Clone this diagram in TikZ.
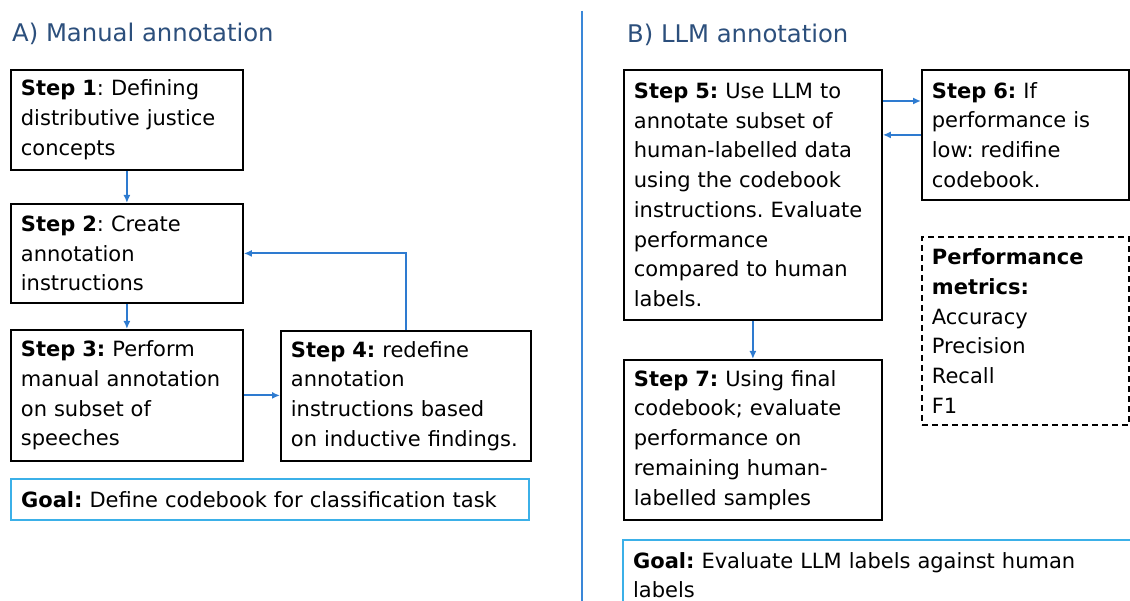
\documentclass[tikz,border=0pt]{standalone}
\usepackage{fontspec}
\setmainfont{DejaVu Sans}
\usetikzlibrary{arrows.meta}
\definecolor{titleblue}{RGB}{44,79,124}
\definecolor{arrowblue}{RGB}{46,123,208}
\definecolor{goalblue}{RGB}{59,176,232}
\definecolor{divblue}{RGB}{58,135,216}
\begin{document}
\frenchspacing
\begin{tikzpicture}[x=1pt,y=-1pt,
  basebox/.style={anchor=north west, inner xsep=10pt, inner ysep=0pt, align=left,
    font=\fontsize{21}{29.7}\selectfont},
  stepbox/.style={basebox, draw=black, line width=1.8pt},
  goalbox/.style={basebox, draw=goalblue, line width=2.2pt},
  metricbox/.style={basebox, draw=black, line width=1.8pt, dash pattern=on 6pt off 4pt},
  titletext/.style={anchor=base west, inner sep=0pt, text=titleblue, font=\fontsize{24.3}{28}\selectfont},
  flow/.style={draw=arrowblue, line width=1.8pt, -{Latex[length=8pt,width=7pt]}}
]
\useasboundingbox (0,0) rectangle (1130,601);
\fill[white] (0,0) rectangle (1130,601);

% titles
\node[titletext] (tA) at (12,42) {A) Manual annotation};
\node[titletext] (tB) at (627,43) {B) LLM annotation};

% divider
\draw[divblue, line width=2pt] (582,11) -- (582,610);

% left column
\node[stepbox, text width=212pt, minimum height=100pt] (s1) at (10,69)
  {\textbf{Step 1}: Defining\\distributive justice\\concepts};
\node[stepbox, text width=212pt, minimum height=99pt] (s2) at (10,203)
  {\textbf{Step 2}: Create\\annotation\\instructions};
\node[stepbox, text width=212pt, minimum height=131pt] (s3) at (10,329)
  {\textbf{Step 3:} Perform\\manual annotation\\on subset of\\speeches};
\node[stepbox, text width=230pt, minimum height=130pt] (s4) at (280,330)
  {\textbf{Step 4:} redefine\\annotation\\instructions based\\on inductive findings.};
\node[goalbox, text width=498pt, minimum height=41pt] (gA) at (10,478)
  {\textbf{Goal:} Define codebook for classification task};

% right column
\node[stepbox, text width=238pt, minimum height=250pt] (s5) at (623,69)
  {\textbf{Step 5:} Use LLM to\\annotate subset of\\human-labelled data\\using the codebook\\instructions. Evaluate\\performance\\compared to human\\labels.};
\node[stepbox, text width=187pt, minimum height=130pt] (s6) at (921,69)
  {\textbf{Step 6:} If\\performance is\\low: redifine\\codebook.};
\node[metricbox, text width=187pt, minimum height=188pt] (pm) at (921,236)
  {\textbf{Performance}\\\textbf{metrics:}\\Accuracy\\Precision\\Recall\\F1};
\node[stepbox, text width=238pt, minimum height=160pt] (s7) at (623,359)
  {\textbf{Step 7:} Using final\\codebook; evaluate\\performance on\\remaining human-\\labelled samples};
\node[goalbox, text width=510pt, minimum height=70pt] (gB) at (622,539)
  {\textbf{Goal:} Evaluate LLM labels against human\\labels};

% connectors
\draw[flow] (s1.south) -- (s1.south |- s2.north);
\draw[flow] (s2.south) -- (s2.south |- s3.north);
\draw[flow] (s3.east) -- (s3.east -| s4.west);
\draw[flow] (s4.north) |- (s2.east);
\draw[flow] ([yshift=-32pt]s5.north east) -- ([yshift=-32pt]s6.north west);
\draw[flow] (s6.west) -- (s6.west -| s5.east);
\draw[flow] (s5.south) -- (s5.south |- s7.north);
\end{tikzpicture}
\end{document}
